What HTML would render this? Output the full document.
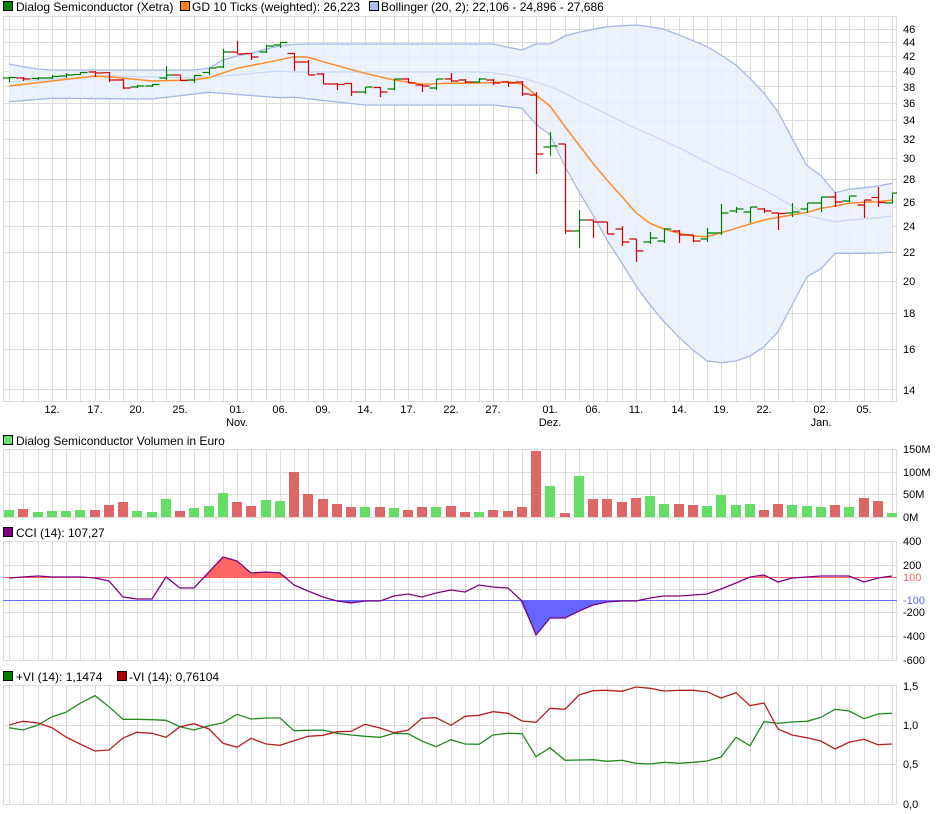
<!DOCTYPE html>
<html><head><meta charset="utf-8"><style>
html,body{margin:0;padding:0;background:#fff;width:940px;height:814px;overflow:hidden}
svg{display:block;font-family:"Liberation Sans",Arial,sans-serif}
</style></head><body>
<svg width="940" height="814" viewBox="0 0 940 814" xmlns="http://www.w3.org/2000/svg">
<defs>
<clipPath id="cm"><rect x="3" y="16" width="894" height="385"/></clipPath>
</defs>
<!-- legends -->
<g font-size="12" fill="#000">
<rect x="3.5" y="1.5" width="9" height="9" fill="#008000" stroke="#000"/><text x="16" y="11">Dialog Semiconductor (Xetra)</text>
<rect x="180.5" y="1.5" width="9" height="9" fill="#ff8020" stroke="#000"/><text x="192" y="11">GD 10 Ticks (weighted): 26,223</text>
<rect x="369.5" y="1.5" width="9" height="9" fill="#a8bde8" stroke="#000"/><text x="381" y="11">Bollinger (20, 2): 22,106 - 24,896 - 27,686</text>
<rect x="3.5" y="435.5" width="9" height="9" fill="#66dd66" stroke="#000"/><text x="16" y="445">Dialog Semiconductor Volumen in Euro</text>
<rect x="3.5" y="527.5" width="9" height="9" fill="#800080" stroke="#000"/><text x="16" y="537">CCI (14): 107,27</text>
<rect x="3.5" y="671.5" width="9" height="9" fill="#008000" stroke="#000"/><text x="16" y="681">+VI (14): 1,1474</text>
<rect x="117.5" y="671.5" width="9" height="9" fill="#aa0000" stroke="#000"/><text x="129" y="681">-VI (14): 0,76104</text>
</g>
<!-- vertical grid -->
<g stroke="#dcdcdc" stroke-width="1" fill="none">
<path id="vg" d="M9.5 16V401M23.5 16V401M38.5 16V401M52.5 16V401M66.5 16V401M80.5 16V401M95.5 16V401M109.5 16V401M123.5 16V401M137.5 16V401M152.5 16V401M166.5 16V401M180.5 16V401M194.5 16V401M209.5 16V401M223.5 16V401M237.5 16V401M251.5 16V401M266.5 16V401M280.5 16V401M294.5 16V401M308.5 16V401M323.5 16V401M337.5 16V401M351.5 16V401M365.5 16V401M380.5 16V401M394.5 16V401M408.5 16V401M422.5 16V401M436.5 16V401M451.5 16V401M465.5 16V401M479.5 16V401M493.5 16V401M508.5 16V401M522.5 16V401M536.5 16V401M550.5 16V401M565.5 16V401M579.5 16V401M593.5 16V401M607.5 16V401M622.5 16V401M636.5 16V401M650.5 16V401M664.5 16V401M679.5 16V401M693.5 16V401M707.5 16V401M721.5 16V401M736.5 16V401M750.5 16V401M764.5 16V401M778.5 16V401M792.5 16V401M807.5 16V401M821.5 16V401M835.5 16V401M849.5 16V401M864.5 16V401M878.5 16V401M892.5 16V401"/>
<g transform="translate(0,449.5) scale(1,0.17662) translate(0,-16)"><use href="#vg"/></g>
<g transform="translate(0,541.5) scale(1,0.3091) translate(0,-16)"><use href="#vg"/></g>
<g transform="translate(0,685.5) scale(1,0.3091) translate(0,-16)"><use href="#vg"/></g>
<!-- main horizontal -->
<path d="M3 29.5H897M3 42.5H897M3 56.5H897M3 71.5H897M3 86.5H897M3 103.5H897M3 120.5H897M3 139.5H897M3 158.5H897M3 179.5H897M3 201.5H897M3 226.5H897M3 252.5H897M3 281.5H897M3 313.5H897M3 349.5H897M3 389.5H897"/>
<rect x="3.5" y="16.5" width="893" height="385"/>
<path d="M3 472.5H897M3 494.5H897"/>
<rect x="3.5" y="449.5" width="893" height="68"/>
<path d="M3 565.5H897M3 589.5H897M3 612.5H897M3 636.5H897"/>
<rect x="3.5" y="541.5" width="893" height="119"/>
<path d="M3 725.5H897M3 764.5H897"/>
<rect x="3.5" y="685.5" width="893" height="119"/>
</g>
<!-- main chart -->
<g clip-path="url(#cm)">
<polygon fill="#e9f0fc" fill-opacity="0.85" points="9,64 23,66.7 38,69 52,70 180,70 194,70 209,68.3 223,60 237,56 251,53.3 266,49 280,45.7 294,44.5 308,44 493,44 508,47.3 522,50 536,44 550,44 565,36 579,32.3 593,29.3 607,26.7 622,25.7 636,25 650,26.7 664,29.3 679,35 693,40.7 707,46.7 721,55 736,65 750,78.3 764,93.3 778,111.7 792,138.3 807,165.7 821,175.7 835,192.7 849,189.3 864,187.7 878,186 892,183.3 892,252.3 878,253 864,253.3 849,253.3 835,253.3 821,269 807,276.7 792,305 778,331.7 764,346.7 750,356 736,361 721,362.7 707,361 693,350 679,337.3 664,321.7 650,305 636,286 622,263.3 607,240 593,215 579,191.7 565,166.7 550,135 536,124.3 522,108.3 508,106.7 493,105 365,105 294,97.3 280,97.7 209,92.3 152,99 52,98.3 9,101.7"/>
<g fill="none" stroke-width="1.3">
<polyline stroke="#a3b8e6" points="9,64 23,66.7 38,69 52,70 180,70 194,70 209,68.3 223,60 237,56 251,53.3 266,49 280,45.7 294,44.5 308,44 493,44 508,47.3 522,50 536,44 550,44 565,36 579,32.3 593,29.3 607,26.7 622,25.7 636,25 650,26.7 664,29.3 679,35 693,40.7 707,46.7 721,55 736,65 750,78.3 764,93.3 778,111.7 792,138.3 807,165.7 821,175.7 835,192.7 849,189.3 864,187.7 878,186 892,183.3"/>
<polyline stroke="#a3b8e6" points="892,252.3 878,253 864,253.3 849,253.3 835,253.3 821,269 807,276.7 792,305 778,331.7 764,346.7 750,356 736,361 721,362.7 707,361 693,350 679,337.3 664,321.7 650,305 636,286 622,263.3 607,240 593,215 579,191.7 565,166.7 550,135 536,124.3 522,108.3 508,106.7 493,105 365,105 294,97.3 280,97.7 209,92.3 152,99 52,98.3 9,101.7"/>
<polyline stroke="#c9d9f6" points="9,82 109,76 194,78 223,76 280,71 294,72 479,72 493,73 508,75 522,77.7 536,82.3 550,86.7 565,93.3 579,100.7 593,107.3 607,114.3 622,121.7 636,128.3 650,134.3 664,141 679,147.7 693,155 707,162.3 721,169.3 736,176 750,183.3 764,190 778,197.7 792,206 807,215.7 821,219 835,221.7 849,220 864,219 878,217.7 892,216"/>
<polyline stroke="#ff8a2a" stroke-width="1.5" points="9,86 95,76 109,76.7 152,81 194,80 209,77.7 237,68.3 266,62.7 294,56.7 308,57.3 323,61.7 365,73.3 394,80 422,84.3 451,83.3 479,83 508,81.7 522,84 536,95 550,106 565,126.7 579,145 593,163.3 607,180 622,196.7 636,212.7 650,223.3 664,229 679,233.3 693,236 707,236.7 721,232.7 736,228.3 750,224 764,220 778,217.3 792,215 807,212.3 821,208.3 835,206 849,203.3 864,202.3 878,201.7 892,200"/>
</g>
<path fill="none" stroke="#008000" stroke-width="1.2" d="M9.5 77V82M2.5 78H9.5M9.5 77.5H16.5M38.5 77V80M31.5 78.5H38.5M38.5 78H45.5M52.5 75V79M45.5 78H52.5M52.5 76.5H59.5M66.5 73V78M59.5 76H66.5M66.5 75H73.5M80.5 72V75M73.5 74.5H80.5M80.5 72.5H87.5M137.5 85V88M130.5 87H137.5M137.5 86H144.5M152.5 84V87M145.5 86H152.5M152.5 84.5H159.5M166.5 66V80M159.5 78H166.5M166.5 75H173.5M194.5 75V83M187.5 80H194.5M194.5 75.5H201.5M209.5 68V75M202.5 72.5H209.5M209.5 68H216.5M223.5 49V68M216.5 67H223.5M223.5 52H230.5M266.5 45V53M259.5 52H266.5M266.5 46H273.5M280.5 42V48M273.5 45H280.5M280.5 42.5H287.5M365.5 87V94M358.5 92H365.5M365.5 87H372.5M394.5 79V90M387.5 89H394.5M394.5 79H401.5M436.5 79V90M429.5 88H436.5M436.5 79H443.5M479.5 78V83M472.5 82H479.5M479.5 79H486.5M550.5 132V156M543.5 147H550.5M550.5 146H557.5M579.5 210V248M572.5 231H579.5M579.5 220H586.5M650.5 232V244M643.5 242H650.5M650.5 238H657.5M664.5 228V243M657.5 241H664.5M664.5 229H671.5M707.5 228V242M700.5 239H707.5M707.5 233H714.5M721.5 204V235M714.5 233H721.5M721.5 213H728.5M736.5 207V213M729.5 211H736.5M736.5 209H743.5M750.5 207V223M743.5 212H750.5M750.5 207H757.5M792.5 203V217M785.5 213H792.5M792.5 212H799.5M807.5 203V213M800.5 209H807.5M807.5 203H814.5M821.5 197V212M814.5 203H821.5M821.5 197H828.5M849.5 196V202M842.5 201H849.5M849.5 196H856.5M892.5 193V203M885.5 203H892.5M892.5 193H899.5"/>
<path fill="none" stroke="#d00000" stroke-width="1.2" d="M23.5 77V81M16.5 78H23.5M23.5 79H30.5M95.5 71V77M88.5 72H95.5M95.5 73H102.5M109.5 72V82M102.5 72.7H109.5M109.5 80H116.5M123.5 79V89M116.5 80H123.5M123.5 88H130.5M180.5 75V81M173.5 75H180.5M180.5 80.5H187.5M237.5 41V54M230.5 52H237.5M237.5 54H244.5M251.5 53V60M244.5 53.5H251.5M251.5 57H258.5M294.5 53V71M287.5 53.5H294.5M294.5 62H301.5M308.5 60V75M301.5 62H308.5M308.5 75H315.5M323.5 73V84M316.5 74H323.5M323.5 84H330.5M337.5 83V90M330.5 84H337.5M337.5 84.5H344.5M351.5 83V96M344.5 83.5H351.5M351.5 92H358.5M380.5 87V97M373.5 87.5H380.5M380.5 92H387.5M408.5 78V83M401.5 79H408.5M408.5 83H415.5M422.5 84V92M415.5 85H422.5M422.5 86H429.5M451.5 73V82M444.5 79H451.5M451.5 81H458.5M465.5 79V83M458.5 80H465.5M465.5 82H472.5M493.5 79V85M486.5 80H493.5M493.5 83H500.5M508.5 82V87M501.5 82H508.5M508.5 83H515.5M522.5 81V96M515.5 82H522.5M522.5 94H529.5M536.5 92V174M529.5 95H536.5M536.5 154H543.5M565.5 144V234M558.5 144H565.5M565.5 231H572.5M593.5 220V238M586.5 220H593.5M593.5 222H600.5M607.5 222V234M600.5 222H607.5M607.5 234H614.5M622.5 226V246M615.5 229H622.5M622.5 242H629.5M636.5 239V262M629.5 239H636.5M636.5 251H643.5M679.5 230V243M672.5 231H679.5M679.5 235H686.5M693.5 235V242M686.5 235H693.5M693.5 241H700.5M764.5 208V213M757.5 209H764.5M764.5 211H771.5M778.5 213V230M771.5 213H778.5M778.5 213.5H785.5M835.5 192V207M828.5 197H835.5M835.5 202H842.5M864.5 200V218M857.5 205H864.5M864.5 200H871.5M878.5 187V207M871.5 197.5H878.5M878.5 202.5H885.5"/>
</g>
<g font-size="11" fill="#000">
<text x="903" y="33">46</text><text x="903" y="46">44</text><text x="903" y="60">42</text><text x="903" y="75">40</text><text x="903" y="91">38</text><text x="903" y="107">36</text><text x="903" y="124">34</text><text x="903" y="143">32</text><text x="903" y="162">30</text><text x="903" y="183">28</text><text x="903" y="206">26</text><text x="903" y="230">24</text><text x="903" y="256">22</text><text x="903" y="285">20</text><text x="903" y="317">18</text><text x="903" y="353">16</text><text x="903" y="394">14</text>
</g>
<g font-size="11" fill="#000" text-anchor="middle">
<text x="52" y="413">12.</text><text x="95" y="413">17.</text><text x="137" y="413">20.</text><text x="180" y="413">25.</text><text x="237" y="413">01.</text><text x="280" y="413">06.</text><text x="323" y="413">09.</text><text x="365" y="413">14.</text><text x="408" y="413">17.</text><text x="451" y="413">22.</text><text x="493" y="413">27.</text><text x="550" y="413">01.</text><text x="593" y="413">06.</text><text x="636" y="413">11.</text><text x="679" y="413">14.</text><text x="721" y="413">19.</text><text x="764" y="413">22.</text><text x="821" y="413">02.</text><text x="864" y="413">05.</text>
<text x="237" y="426">Nov.</text><text x="550" y="426">Dez.</text><text x="821" y="426">Jan.</text>
</g>
<g fill="#66dd66">
<rect x="4" y="510" width="10" height="7"/><rect x="33" y="512" width="10" height="5"/><rect x="47" y="511" width="10" height="6"/><rect x="61" y="511" width="10" height="6"/><rect x="75" y="510" width="10" height="7"/><rect x="132" y="511" width="10" height="6"/><rect x="147" y="512" width="10" height="5"/><rect x="161" y="499" width="10" height="18"/><rect x="189" y="508" width="10" height="9"/><rect x="204" y="506" width="10" height="11"/><rect x="218" y="493" width="10" height="24"/><rect x="261" y="500" width="10" height="17"/><rect x="275" y="501" width="10" height="16"/><rect x="360" y="507" width="10" height="10"/><rect x="389" y="508" width="10" height="9"/><rect x="431" y="507" width="10" height="10"/><rect x="474" y="512" width="10" height="5"/><rect x="545" y="486" width="10" height="31"/><rect x="574" y="476" width="10" height="41"/><rect x="645" y="496" width="10" height="21"/><rect x="659" y="504" width="10" height="13"/><rect x="702" y="506" width="10" height="11"/><rect x="716" y="495" width="10" height="22"/><rect x="731" y="505" width="10" height="12"/><rect x="745" y="504" width="10" height="13"/><rect x="787" y="505" width="10" height="12"/><rect x="802" y="506" width="10" height="11"/><rect x="816" y="507" width="10" height="10"/><rect x="844" y="507" width="10" height="10"/><rect x="887" y="513" width="10" height="4"/>
</g>
<g fill="#dd6666">
<rect x="18" y="509" width="10" height="8"/><rect x="90" y="510" width="10" height="7"/><rect x="104" y="505" width="10" height="12"/><rect x="118" y="502" width="10" height="15"/><rect x="175" y="511" width="10" height="6"/><rect x="232" y="502" width="10" height="15"/><rect x="246" y="506" width="10" height="11"/><rect x="289" y="472" width="10" height="45"/><rect x="303" y="494" width="10" height="23"/><rect x="318" y="499" width="10" height="18"/><rect x="332" y="504" width="10" height="13"/><rect x="346" y="507" width="10" height="10"/><rect x="375" y="507" width="10" height="10"/><rect x="403" y="510" width="10" height="7"/><rect x="417" y="507" width="10" height="10"/><rect x="446" y="506" width="10" height="11"/><rect x="460" y="512" width="10" height="5"/><rect x="488" y="510" width="10" height="7"/><rect x="503" y="511" width="10" height="6"/><rect x="517" y="507" width="10" height="10"/><rect x="531" y="451" width="10" height="66"/><rect x="560" y="513" width="10" height="4"/><rect x="588" y="499" width="10" height="18"/><rect x="602" y="499" width="10" height="18"/><rect x="617" y="502" width="10" height="15"/><rect x="631" y="498" width="10" height="19"/><rect x="674" y="504" width="10" height="13"/><rect x="688" y="505" width="10" height="12"/><rect x="759" y="510" width="10" height="7"/><rect x="773" y="504" width="10" height="13"/><rect x="830" y="505" width="10" height="12"/><rect x="859" y="498" width="10" height="19"/><rect x="873" y="501" width="10" height="16"/>
</g>
<g font-size="11" fill="#000">
<text x="903" y="453">150M</text><text x="903" y="476">100M</text><text x="903" y="498">50M</text><text x="903" y="521">0M</text>
</g>
<polygon fill="#ff6666" points="203,577.3 209,572 223,557 237,561 251,573 266,572 280,573 287,577.3"/>
<polygon fill="#ff6666" points="757,577.3 764,575 770,577.3"/>
<polygon fill="#6666ff" points="520,600.3 536,635 550,618 565,618 579,611 593,605 607,602 622,601 636,600.3"/>
<polygon fill="#6666ff" points="335,600.3 351,603 365,601 380,601 384,600.3"/>
<path d="M3 577.5H897" stroke="#ff6666" stroke-width="1"/>
<path d="M3 600.5H897" stroke="#6666ff" stroke-width="1"/>
<polyline fill="none" stroke="#800080" stroke-width="1.3" points="9,578 23,577 38,576 52,577 66,577 80,577 95,578 109,581 123,597 137,599 152,599 166,577 180,588 194,588 209,572 223,557 237,561 251,573 266,572 280,573 294,585 308,591 323,597 337,601 351,603 365,601 380,601 394,596 408,594 422,597 436,593 451,590 465,592 479,585 493,587 508,588 522,601 536,635 550,618 565,618 579,611 593,605 607,602 622,601 636,601 650,598 664,596 679,596 693,595 707,594 721,589 736,583 750,577 764,575 778,582 792,578 807,577 821,576 835,576 849,576 864,582 878,578 892,576"/>
<g font-size="11">
<text x="903" y="545" fill="#000">400</text><text x="903" y="569" fill="#000">200</text><text x="903" y="581" fill="#ff6666">100</text><text x="903" y="604" fill="#6666ff">-100</text><text x="903" y="616" fill="#000">-200</text><text x="903" y="640" fill="#000">-400</text><text x="903" y="664" fill="#000">-600</text>
</g>
<polyline fill="none" stroke="#228b22" stroke-width="1.3" points="9,727.7 23,730 38,725 52,716.7 66,712.3 80,703.3 95,695.7 109,706.7 123,719.3 137,719.3 152,719.7 166,720.3 180,726.7 194,730 209,725.7 223,722.7 237,714.3 251,719 266,718 280,718 294,730.7 308,730.3 323,730 337,733.3 351,735 365,736.3 380,737.3 394,733.3 408,733.7 422,741 436,746.7 451,739.7 465,744 479,744.3 493,735 508,733.3 522,733.7 536,756.7 550,747.7 565,760.3 579,760 593,759.7 607,761.3 622,760.3 636,763.3 650,764 664,762.3 679,763.3 693,762.3 707,761 721,757 736,737.3 750,745.7 764,721.7 778,723.3 792,722 807,721.3 821,717.3 835,709.3 849,711 864,718.7 878,714 892,713.3"/>
<polyline fill="none" stroke="#b22222" stroke-width="1.3" points="9,725 23,721.3 38,723 52,727.7 66,737 80,744 95,751 109,750 123,738 137,732.3 152,733.3 166,737.3 180,726.7 194,723.7 209,729 223,743.3 237,747.3 251,738.3 266,744 280,745.3 294,740.7 308,736.3 323,735.3 337,731.7 351,731.3 365,724.3 380,728 394,732.7 408,730.3 422,718.3 436,717.7 451,725.3 465,716.3 479,715.3 493,711.7 508,713.3 522,721 536,722.3 550,708.3 565,709.3 579,695 593,690.7 607,690.3 622,691.3 636,687 650,688.3 664,691 679,690.3 693,690.3 707,691.7 721,698 736,692.7 750,705.7 764,703 778,729 792,735 807,737.7 821,741 835,749 849,742.3 864,739.3 878,744.7 892,744"/>
<g font-size="11" fill="#000">
<text x="903" y="690">1,5</text><text x="903" y="729">1,0</text><text x="903" y="768">0,5</text><text x="903" y="808">0,0</text>
</g>
</svg>
</body></html>
